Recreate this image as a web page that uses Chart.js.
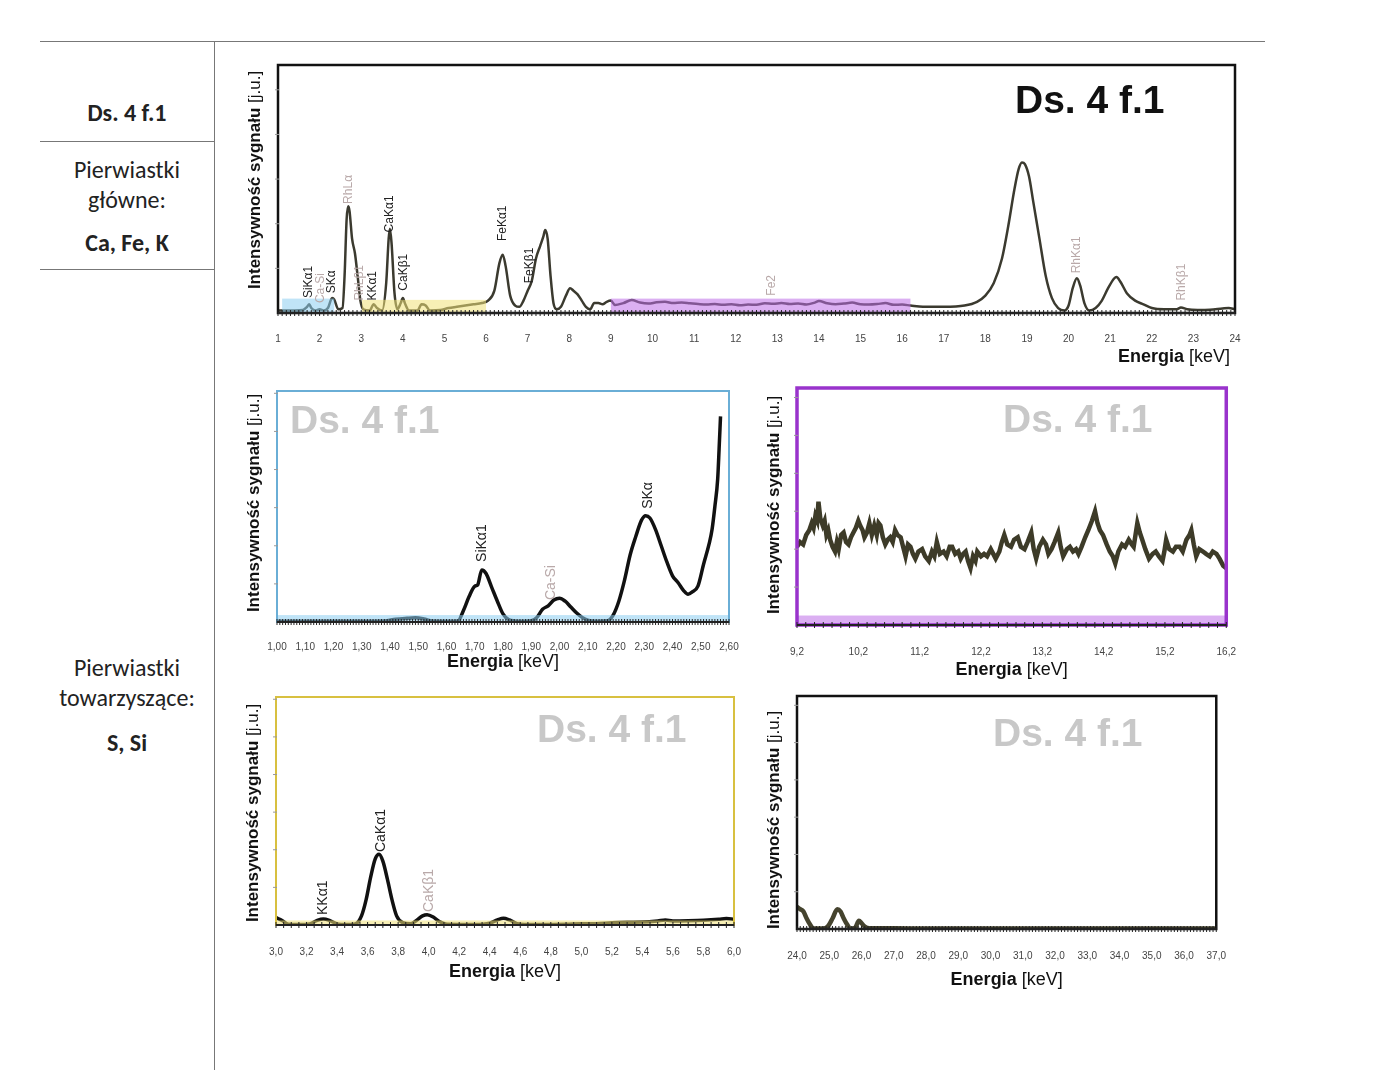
<!DOCTYPE html>
<html>
<head>
<meta charset="utf-8">
<script src="https://cdn.jsdelivr.net/npm/chart.js@4.4.1/dist/chart.umd.min.js"></script>
<style>
body { margin:0; background:#fff; width:1400px; height:1070px; position:relative; overflow:hidden; font-family:'Carlito','Open Sans',sans-serif; }
.rule { position:absolute; background:#777; }
.cell { position:absolute; left:40px; width:174px; text-align:center; color:#222; font-size:24px; line-height:30px; }
.cell b { font-weight:700; }
.box { position:absolute; }
</style>
</head>
<body>

<div class="rule" style="left:40px;top:41px;width:1225px;height:1px"></div>
<div class="rule" style="left:214px;top:41px;width:1px;height:1029px"></div>
<div class="rule" style="left:40px;top:141px;width:174px;height:1px"></div>
<div class="rule" style="left:40px;top:269px;width:174px;height:1px"></div>

<div class="cell" style="top:98px"><b>Ds. 4 f.1</b></div>
<div class="cell" style="top:155px">Pierwiastki<br>główne:</div>
<div class="cell" style="top:228px"><b>Ca, Fe, K</b></div>
<div class="cell" style="top:653px">Pierwiastki<br>towarzyszące:</div>
<div class="cell" style="top:728px"><b>S, Si</b></div>

<div class="box" id="boxTop"><canvas id="chartTop"></canvas></div>
<div class="box" id="boxMidL"><canvas id="chartMidL"></canvas></div>
<div class="box" id="boxMidR"><canvas id="chartMidR"></canvas></div>
<div class="box" id="boxBotL"><canvas id="chartBotL"></canvas></div>
<div class="box" id="boxBotR"><canvas id="chartBotR"></canvas></div>

<script>
// ---- data: full spectrum 1-24 keV ----
var topEnergy = [1.0,1.2,1.4,1.6,1.7,1.75,1.8,1.9,2.0,2.1,2.2,2.3,2.35,2.45,2.55,2.6,2.65,2.69,2.72,2.78,2.85,2.92,2.98,3.05,3.2,3.3,3.38,3.5,3.6,3.66,3.69,3.73,3.8,3.87,3.95,4.0,4.06,4.15,4.35,4.45,4.55,4.65,4.9,5.1,5.3,5.5,5.7,5.9,6.05,6.2,6.32,6.4,6.47,6.58,6.7,6.8,6.9,7.0,7.1,7.2,7.3,7.38,7.42,7.48,7.55,7.62,7.7,7.8,7.92,8.02,8.1,8.2,8.3,8.4,8.5,8.6,8.7,8.8,8.9,9.0,
  9.1,9.3,9.5,9.7,9.9,10.1,10.3,10.5,10.7,10.9,11.1,11.3,11.5,11.7,11.9,12.1,12.3,12.5,12.7,12.9,13.1,13.3,13.5,13.7,13.9,14.0,14.2,14.4,14.6,14.8,15.0,15.2,15.4,15.6,15.8,16.0,16.2,
  16.5,17.0,17.5,17.8,18.0,18.2,18.4,18.55,18.7,18.8,18.88,18.95,19.05,19.15,19.3,19.45,19.6,19.75,19.9,20.0,20.1,20.2,20.28,20.38,20.5,20.65,20.8,20.95,21.1,21.15,21.25,21.4,21.6,21.8,22.0,22.3,22.6,22.7,22.85,23.1,23.4,23.7,23.85,24.0];
var topIntensity = [1,1,1,1.2,2.5,3.5,2,1,1.5,1,2,6,5.5,1.5,2,15,38,43,41,30,24,14,5,1.5,1,3.5,2,1,12,30,34,28,8,1.5,4,6,3.5,1,1,3.5,3,1,1.2,2,2.5,3,3.5,4,5,9,20,23.5,19,7,3,2.5,5,9,13,22,27,31,33.5,30,15,4,1.5,2.5,7,10,9,7.5,5,2.5,1.5,4,4,3.5,4.5,5,
  3.2,4.0,5.2,4.2,3.8,4.3,4.5,4.0,4.2,3.9,3.6,3.4,3.6,3.3,3.5,3.1,3.4,3.3,3.9,3.7,4.0,3.6,3.8,3.4,4.2,4.8,3.9,3.5,3.8,4.2,3.5,3.4,3.6,4.0,3.3,3.4,3.0,
  2.5,2.5,3,4.5,7,12,22,35,50,58,60.7,60,55,45,30,15,6,2,1,3,10,14,11,4,1,2,5,10,14,14.5,12.5,8,5,3.5,2,1.5,1.5,2.2,1.5,1.2,1.3,1.8,2,1.5];
var topTicks = [1,2,3,4,5,6,7,8,9,10,11,12,13,14,15,16,17,18,19,20,21,22,23,24];
var topTickLabels = ['1','2','3','4','5','6','7','8','9','10','11','12','13','14','15','16','17','18','19','20','21','22','23','24'];
var topPeakNames = ['SiKα1','Ca-Si','SKα','RhLα','RhLβ1','KKα1','CaKα1','CaKβ1','FeKα1','FeKβ1','Fe2','RhKα1','RhKβ1'];
var topPeakX     = [1.745,2.02,2.3,2.71,2.97,3.28,3.69,4.03,6.41,7.06,12.87,20.2,22.73];
var topPeakY     = [6,4,8,44,5,5,32.5,9,29,12,7,16,5];
var topPeakGrey  = [false,true,false,true,true,false,false,false,false,false,true,true,true];

// ---- data: Si / S region 1.00-2.60 keV ----
var midLEnergy = [1.00,1.10,1.20,1.30,1.38,1.42,1.46,1.49,1.52,1.55,1.60,1.64,1.66,1.68,1.70,1.71,1.725,1.74,1.76,1.78,1.80,1.82,1.86,1.90,1.92,1.94,1.96,1.98,2.00,2.02,2.04,2.06,2.08,2.10,2.14,2.17,2.19,2.21,2.23,2.25,2.27,2.29,2.305,2.32,2.34,2.36,2.38,2.40,2.42,2.44,2.455,2.47,2.49,2.51,2.53,2.54,2.55,2.56,2.565,2.57];
var midLIntensity = [0.3,0.3,0.3,0.3,0.4,1.2,1.6,1.8,1.3,0.4,0.3,0.4,5,11,15.5,16,22.5,21,15,9,3.5,1,0.3,0.5,2,5.5,7,9.5,10.3,9,6.5,4,2,0.8,0.3,0.5,3,9,18,29,37,44,46,45,40,33,26,20,17,13.5,12,13,15.5,25,34,40,50,62,75,89];
var midLTicks = [1.0,1.1,1.2,1.3,1.4,1.5,1.6,1.7,1.8,1.9,2.0,2.1,2.2,2.3,2.4,2.5,2.6];
var midLTickLabels = ['1,00','1,10','1,20','1,30','1,40','1,50','1,60','1,70','1,80','1,90','2,00','2,10','2,20','2,30','2,40','2,50','2,60'];
var midLPeakNames = ['SiKα1','Ca-Si','SKα'];
var midLPeakX = [1.726,1.97,2.313];
var midLPeakY = [26,9.5,49];
var midLPeakGrey = [false,true,false];

// ---- data: 9.2-16.2 keV ----
var midREnergy = [9.20,9.25,9.30,9.35,9.40,9.44,9.47,9.50,9.53,9.55,9.58,9.62,9.65,9.68,9.71,9.74,9.78,9.82,9.85,9.88,9.92,9.96,10.00,10.04,10.08,10.12,10.16,10.20,10.23,10.27,10.30,10.34,10.38,10.42,10.46,10.50,10.53,10.56,10.60,10.64,10.68,10.72,10.76,10.80,10.84,10.89,10.93,10.97,11.01,11.05,11.09,11.13,11.18,11.24,11.29,11.35,11.40,11.44,11.48,11.53,11.59,11.64,11.69,11.73,11.78,11.83,11.87,11.91,11.95,11.99,12.03,12.07,12.11,12.14,12.20,12.25,12.30,12.36,12.40,12.44,12.50,12.54,12.58,12.63,12.69,12.74,12.80,12.85,12.91,12.96,13.02,13.06,13.10,13.15,13.21,13.26,13.30,13.35,13.40,13.46,13.50,13.54,13.60,13.65,13.70,13.75,13.79,13.84,13.90,13.95,14.01,14.06,14.10,14.14,14.19,14.25,14.30,14.35,14.39,14.44,14.50,14.55,14.61,14.66,14.69,14.72,14.75,14.79,14.83,14.88,14.94,15.00,15.05,15.10,15.16,15.19,15.22,15.27,15.33,15.38,15.44,15.49,15.55,15.60,15.63,15.67,15.71,15.76,15.82,15.87,15.93,15.98,16.04,16.09,16.15,16.20];
var midRIntensity = [33,35,34,38,40,43,41,46,44,52,45,42,44,38,40,36,33,31,35,32,38,39,35,34,37,39,41,44,42,40,37,39,43,38,42,38,43,42,37,34,36,37,35,40,38,37,33,29,34,33,30,28,31,32,29,27,31,29,35,30,31,29,33,33,30,31,28,30,31,27,24,29,27,31,29,30,29,32,30,28,31,35,38,34,33,36,37,33,32,35,39,32,28,33,36,34,30,32,35,39,33,29,32,33,31,32,30,33,37,40,44,48,43,40,38,34,31,29,26,31,34,33,36,34,33,38,43,39,36,32,28,30,31,29,27,31,36,32,31,33,33,31,36,38,40,34,29,32,31,30,29,31,30,28,25,24];
var midRTicks = [9.2,10.2,11.2,12.2,13.2,14.2,15.2,16.2];
var midRTickLabels = ['9,2','10,2','11,2','12,2','13,2','14,2','15,2','16,2'];

// ---- data: K / Ca region 3.0-6.0 keV ----
var botLEnergy = [3.00,3.04,3.08,3.15,3.22,3.27,3.31,3.35,3.40,3.46,3.52,3.56,3.59,3.62,3.65,3.675,3.70,3.73,3.76,3.79,3.83,3.88,3.92,3.96,3.99,4.03,4.07,4.12,4.30,4.40,4.45,4.49,4.53,4.58,4.70,4.90,5.00,5.10,5.20,5.30,5.40,5.50,5.55,5.60,5.70,5.80,5.90,5.95,6.00];
var botLIntensity = [3.2,2,0.3,0.2,0.5,2,2.6,2,0.5,0.2,0.5,4,11,21,29,31,28,20,11,4,1,0.5,2,4,4.5,3.5,1.5,0.3,0.2,0.8,2.2,3,2.2,0.6,0.2,0.3,0.6,0.6,1.0,1.2,1.3,1.8,2.2,1.8,1.9,2.1,2.5,2.8,2.5];
var botLTicks = [3.0,3.2,3.4,3.6,3.8,4.0,4.2,4.4,4.6,4.8,5.0,5.2,5.4,5.6,5.8,6.0];
var botLTickLabels = ['3,0','3,2','3,4','3,6','3,8','4,0','4,2','4,4','4,6','4,8','5,0','5,2','5,4','5,6','5,8','6,0'];
var botLPeakNames = ['KKα1','CaKα1','CaKβ1'];
var botLPeakX = [3.31,3.69,4.0];
var botLPeakY = [4.4,32,5.7];
var botLPeakGrey = [false,false,true];

// ---- data: 24-37 keV ----
var botREnergy = [24.0,24.1,24.2,24.3,24.4,24.5,24.8,24.95,25.1,25.25,25.35,25.45,25.55,25.65,25.8,25.92,26.0,26.1,26.25,27.0,28.0,29.0,30.0,31.0,32.0,33.0,34.0,35.0,36.0,37.0];
var botRIntensity = [9.5,8.5,7.5,4.5,2,0.3,0.2,1,4.5,8.5,7.5,4.5,2,0.2,0.5,3.5,2.5,1,0.3,0.3,0.2,0.2,0.2,0.2,0.2,0.2,0.2,0.2,0.2,0.2];
var botRTicks = [24,25,26,27,28,29,30,31,32,33,34,35,36,37];
var botRTickLabels = ['24,0','25,0','26,0','27,0','28,0','29,0','30,0','31,0','32,0','33,0','34,0','35,0','36,0','37,0'];

var BLUE_BAND = 'rgba(140,205,240,0.55)';
var YELLOW_BAND = 'rgba(240,226,120,0.55)';
var PURPLE_BAND = 'rgba(190,110,232,0.55)';
var NARROW = "'Liberation Sans Narrow','Liberation Sans',Arial,sans-serif";
var WIDE = "'Liberation Sans',Arial,sans-serif";

var PAD_L = 50, PAD_R = 22, PAD_T = 6, PAD_B = 64;

function peaks(names, xs, ys, grey) {
    return names.map(function(n, i) { return { text: n, x: xs[i], y: ys[i], grey: grey[i] }; });
}

function decoPlugin(o) {
    return {
        id: 'deco',
        afterDatasetsDraw: function(chart) {
            var ctx = chart.ctx, a = chart.chartArea, xs = chart.scales.x, ys = chart.scales.y;
            ctx.save();
            // shaded regions, drawn over the line
            (o.bands || []).forEach(function(b) {
                var x0 = xs.getPixelForValue(b.x0), x1 = xs.getPixelForValue(b.x1);
                var yt = ys.getPixelForValue(b.y1), yb = ys.getPixelForValue(0);
                ctx.fillStyle = b.color;
                ctx.fillRect(x0, yt, x1 - x0, yb - yt);
            });
            // frame
            ctx.strokeStyle = o.frame;
            ctx.lineWidth = o.frameWidth;
            ctx.strokeRect(a.left, a.top, a.right - a.left, a.bottom - a.top);
            // axis line + minor ticks
            ctx.strokeStyle = '#222';
            ctx.lineWidth = 2;
            ctx.beginPath(); ctx.moveTo(a.left, a.bottom); ctx.lineTo(a.right, a.bottom); ctx.stroke();
            ctx.lineWidth = 1;
            ctx.beginPath();
            var n = Math.round((xs.max - xs.min) / o.minor);
            for (var i = 0; i <= n; i++) {
                var px = xs.getPixelForValue(xs.min + i * o.minor);
                ctx.moveTo(px, a.bottom - 3); ctx.lineTo(px, a.bottom + 3);
            }
            ctx.stroke();
            ctx.strokeStyle = '#999';
            ctx.beginPath();
            for (var v = o.yMinor; v < ys.max; v += o.yMinor) {
                var py = ys.getPixelForValue(v);
                ctx.moveTo(a.left - 3, py); ctx.lineTo(a.left + 1, py);
            }
            ctx.stroke();
            // watermark
            ctx.fillStyle = o.markColor;
            ctx.font = 'bold 39px ' + WIDE;
            ctx.textAlign = 'left';
            ctx.textBaseline = 'alphabetic';
            ctx.fillText('Ds. 4 f.1', a.left + o.markDx, a.top + o.markDy);
            // peak labels
            ctx.font = o.peakFont + 'px ' + NARROW;
            ctx.textBaseline = 'middle';
            (o.peaks || []).forEach(function(p) {
                ctx.save();
                ctx.translate(xs.getPixelForValue(p.x), ys.getPixelForValue(p.y));
                ctx.rotate(-Math.PI / 2);
                ctx.fillStyle = p.grey ? '#b9a9a9' : '#222';
                ctx.fillText(p.text, 0, 0);
                ctx.restore();
            });
            // x title
            ctx.textBaseline = 'middle';
            ctx.font = 'bold 18px ' + NARROW;
            var w1 = ctx.measureText('Energia ').width;
            ctx.font = '18px ' + NARROW;
            var w2 = ctx.measureText('[keV]').width;
            var tx = o.titleRight ? a.right - 5 - w1 - w2 : (a.left + a.right) / 2 - (w1 + w2) / 2;
            var ty = a.bottom + o.titleDy;
            ctx.fillStyle = '#111';
            ctx.font = 'bold 18px ' + NARROW;
            ctx.fillText('Energia ', tx, ty);
            ctx.font = '18px ' + NARROW;
            ctx.fillText('[keV]', tx + w1, ty);
            // y title
            ctx.save();
            ctx.translate(a.left - 23, a.top + o.yTitleCy);
            ctx.rotate(-Math.PI / 2);
            ctx.font = 'bold 17px ' + NARROW;
            var u1 = ctx.measureText('Intensywność sygnału ').width;
            ctx.font = '17px ' + NARROW;
            var u2 = ctx.measureText('[j.u.]').width;
            var sx = -(u1 + u2) / 2;
            ctx.font = 'bold 17px ' + NARROW;
            ctx.fillText('Intensywność sygnału ', sx, 0);
            ctx.font = '17px ' + NARROW;
            ctx.fillText('[j.u.]', sx + u1, 0);
            ctx.restore();
            ctx.restore();
        }
    };
}

function makeChart(id, boxId, o) {
    var box = document.getElementById(boxId);
    box.style.left = (o.L - PAD_L) + 'px';
    box.style.top = (o.T - PAD_T) + 'px';
    box.style.width = (o.R - o.L + PAD_L + PAD_R) + 'px';
    box.style.height = (o.B - o.T + PAD_T + PAD_B) + 'px';
    var pts = o.energy.map(function(e, i) { return { x: e, y: o.intensity[i] }; });
    return new Chart(document.getElementById(id), {
        type: 'line',
        data: { datasets: [{ data: pts, borderColor: o.lineColor, borderWidth: o.lineWidth, pointRadius: 0,
            cubicInterpolationMode: o.smooth ? 'monotone' : 'default', tension: 0 }] },
        options: {
            responsive: true, maintainAspectRatio: false, animation: false,
            layout: { padding: { left: PAD_L, right: PAD_R, top: PAD_T, bottom: 0 } },
            plugins: { legend: { display: false }, tooltip: { enabled: false } },
            scales: {
                x: {
                    type: 'linear', min: o.xmin, max: o.xmax,
                    grid: { display: false }, border: { display: false },
                    afterBuildTicks: function(s) { s.ticks = o.ticks.map(function(v) { return { value: v }; }); },
                    afterFit: function(s) { s.height = PAD_B; },
                    ticks: { autoSkip: false, maxRotation: 0, padding: o.tickPad, color: '#444',
                        font: { family: NARROW, size: 10 },
                        callback: function(v, i) { return o.tickLabels[i]; } }
                },
                y: { display: false, min: 0, max: 100 }
            }
        },
        plugins: [decoPlugin(o)]
    });
}

makeChart('chartTop', 'boxTop', {
    L: 278, T: 65, R: 1235, B: 313, xmin: 1, xmax: 24,
    energy: topEnergy, intensity: topIntensity, ticks: topTicks, tickLabels: topTickLabels,
    lineColor: '#3b3a2f', lineWidth: 2.5, smooth: true, frame: '#111', frameWidth: 2.5,
    minor: 0.1, yMinor: 18, tickPad: 12, titleDy: 44, titleRight: true, yTitleCy: 115,
    markColor: '#111', markDx: 737, markDy: 48, peakFont: 12,
    peaks: peaks(topPeakNames, topPeakX, topPeakY, topPeakGrey),
    bands: [{ x0: 1.1, x1: 2.35, y1: 5.8, color: BLUE_BAND }, { x0: 3.02, x1: 6.0, y1: 5.3, color: YELLOW_BAND }, { x0: 9.0, x1: 16.2, y1: 5.8, color: PURPLE_BAND }]
});

makeChart('chartMidL', 'boxMidL', {
    L: 277, T: 391, R: 729, B: 622, xmin: 1.0, xmax: 2.6,
    energy: midLEnergy, intensity: midLIntensity, ticks: midLTicks, tickLabels: midLTickLabels,
    lineColor: '#111', lineWidth: 3.5, smooth: true, frame: '#6aaed6', frameWidth: 2,
    minor: 0.01, yMinor: 16.5, tickPad: 11, titleDy: 40, yTitleCy: 112,
    markColor: '#c8c8c8', markDx: 13, markDy: 42, peakFont: 14,
    peaks: peaks(midLPeakNames, midLPeakX, midLPeakY, midLPeakGrey),
    bands: [{ x0: 1.0, x1: 2.6, y1: 3, color: BLUE_BAND }]
});

makeChart('chartMidR', 'boxMidR', {
    L: 797, T: 388, R: 1227, B: 625, xmin: 9.2, xmax: 16.2,
    energy: midREnergy, intensity: midRIntensity, ticks: midRTicks, tickLabels: midRTickLabels,
    lineColor: '#3d3b28', lineWidth: 4.5, smooth: false, frame: '#9933cc', frameWidth: 3.5,
    minor: 1 / 7, yMinor: 16, tickPad: 13, titleDy: 45, yTitleCy: 117,
    markColor: '#c8c8c8', markDx: 206, markDy: 44, peakFont: 14, peaks: [],
    bands: [{ x0: 9.2, x1: 16.2, y1: 4, color: PURPLE_BAND }]
});

makeChart('chartBotL', 'boxBotL', {
    L: 276, T: 697, R: 734, B: 925, xmin: 3.0, xmax: 6.0,
    energy: botLEnergy, intensity: botLIntensity, ticks: botLTicks, tickLabels: botLTickLabels,
    lineColor: '#111', lineWidth: 3.5, smooth: true, frame: '#d8c040', frameWidth: 2,
    minor: 0.05, yMinor: 16.5, tickPad: 13, titleDy: 47, yTitleCy: 116,
    markColor: '#c8c8c8', markDx: 261, markDy: 45, peakFont: 14,
    peaks: peaks(botLPeakNames, botLPeakX, botLPeakY, botLPeakGrey),
    bands: [{ x0: 3.0, x1: 6.0, y1: 2, color: YELLOW_BAND }]
});

makeChart('chartBotR', 'boxBotR', {
    L: 797, T: 696, R: 1217, B: 929, xmin: 24, xmax: 37,
    energy: botREnergy, intensity: botRIntensity, ticks: botRTicks, tickLabels: botRTickLabels,
    lineColor: '#45432e', lineWidth: 4.5, smooth: true, frame: '#111', frameWidth: 2.5,
    minor: 0.1, yMinor: 16, tickPad: 13, titleDy: 51, yTitleCy: 124,
    markColor: '#c8c8c8', markDx: 196, markDy: 50, peakFont: 14, peaks: [],
    bands: []
});
</script>
</body>
</html>
